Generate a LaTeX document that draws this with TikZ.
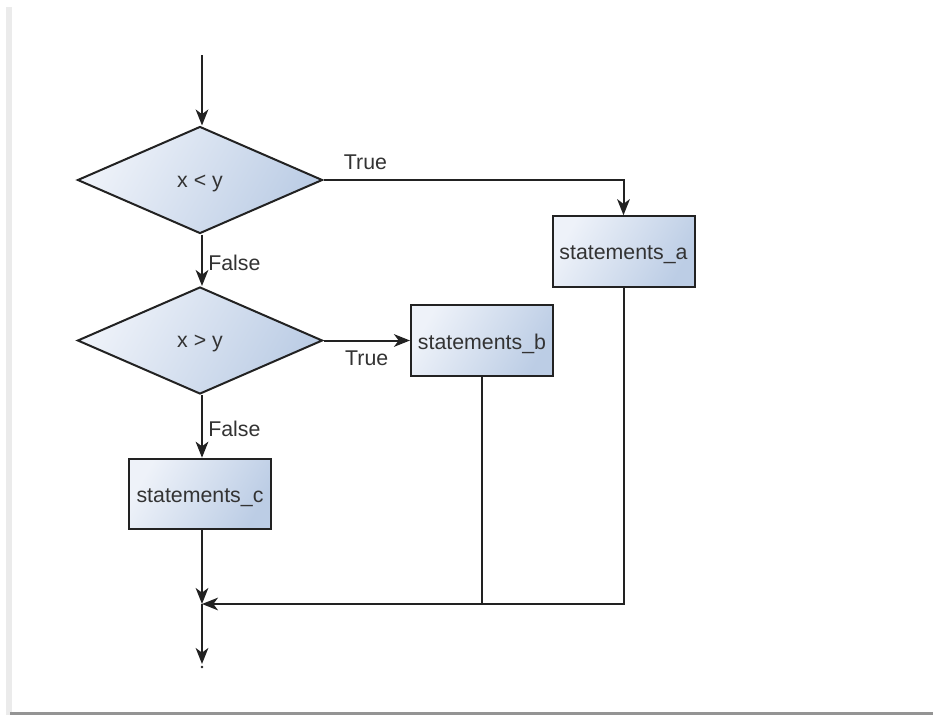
\documentclass[tikz,border=0pt]{standalone}
\usepackage{fontspec}
\setmainfont{Liberation Sans}
\usetikzlibrary{shapes.geometric,arrows.meta}
\definecolor{linec}{HTML}{222222}
\definecolor{textc}{HTML}{333333}
\definecolor{fillA}{HTML}{EEF2F9}
\definecolor{fillB}{HTML}{BCCDE5}
\newcommand{\lowered}[1]{\raisebox{-2.5pt}[\height][\depth]{#1}}
\tikzset{
  shapefill/.style={draw=linec, line width=1.5pt, left color=fillA, right color=fillB, shading angle=60, text=textc, font=\fontsize{16}{19}\selectfont, inner sep=0pt},
  decision/.style={shapefill, diamond, aspect=2.29, minimum width=183.75pt, minimum height=80.25pt},
  stmtbox/.style={shapefill, rectangle, minimum width=106.5pt, minimum height=53pt},
  flow/.style={draw=linec, line width=1.5pt, -{Stealth[length=12pt,width=9.5pt,inset=3.5pt]}},
  plainline/.style={draw=linec, line width=1.5pt},
  lbl/.style={text=textc, font=\fontsize{16}{19}\selectfont, inner sep=0pt}
}
\begin{document}
\begin{tikzpicture}[x=0.75pt,y=-0.75pt]
\useasboundingbox (0,0) rectangle (933,715);
\fill[white] (0,0) rectangle (933,715);
\fill[black!8] (6,7) rectangle (12,715);
\fill[black!42] (10,712) rectangle (933,715);

\coordinate (s) at (202,55);
\node[decision] (d1) at (200,180) {\lowered{x < y}};
\node[decision] (d2) at (200,340.5) {\lowered{x > y}};
\node[stmtbox] (a) at (623.5,251.5) {\lowered{statements\_a}};
\node[stmtbox] (b) at (482,340.5) {\lowered{statements\_b}};
\node[stmtbox] (c) at (200,494) {\lowered{statements\_c}};
\coordinate (j) at (202,604);
\coordinate (e) at (202,664);

\draw[flow] (s) -- (d1.north -| s);
\draw[flow] (d1.south -| s) -- node[lbl, right=4pt, yshift=-2pt] {False} (d2.north -| s);
\draw[flow] (d2.south -| s) -- node[lbl, right=4pt, yshift=-2pt] {False} (c.north -| s);
\draw[flow] (d1.east) -- node[lbl, above=7pt, pos=0.14] {True} (d1.east -| a) -- (a.north);
\draw[flow] (d2.east) -- node[lbl, below=7pt, pos=0.5] {True} (b.west);
\draw[flow] (c.south -| s) -- (j);
\draw[flow] (a.south) -- (a.south |- j) -- (j);
\draw[plainline] (b.south) -- (b.south |- j);
\draw[flow] (j) -- (e);
\fill[linec] (e) ++(0,3) circle (1.3);
\end{tikzpicture}
\end{document}
